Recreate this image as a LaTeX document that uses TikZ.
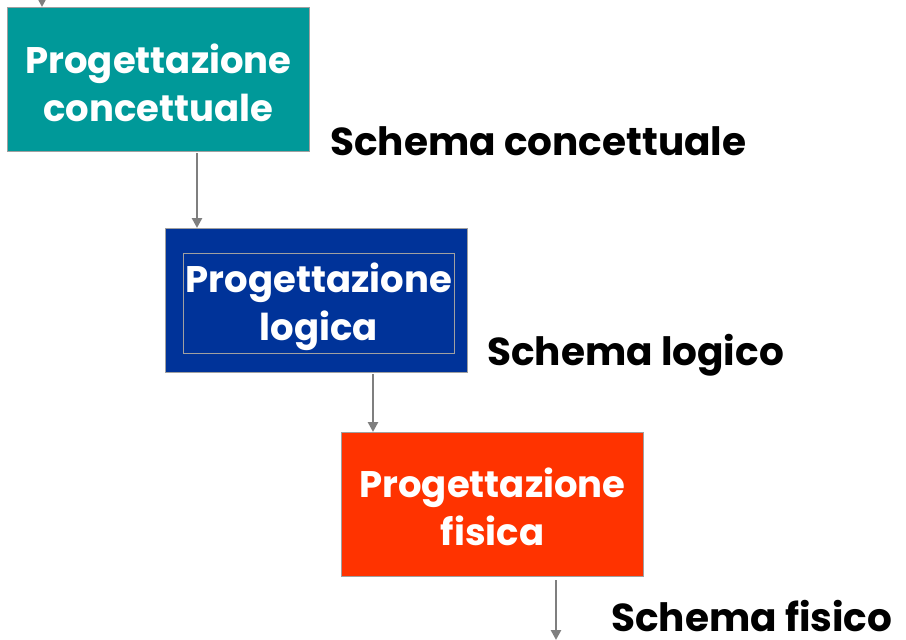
\documentclass[tikz,border=0pt]{standalone}
\usepackage{fontspec}
\setmainfont{Poppins}
\usetikzlibrary{arrows.meta}
\definecolor{teal1}{HTML}{009999}
\definecolor{navy1}{HTML}{003399}
\definecolor{red1}{HTML}{FF3300}
\definecolor{edge1}{HTML}{A0A0A0}
\definecolor{arr1}{HTML}{7F7F7F}
\tikzset{
  phase/.style={draw=edge1, line width=1pt, minimum width=302pt, minimum height=144pt, inner sep=0pt, anchor=north west},
  phtext/.style={text=white, font=\fontsize{37}{48}\selectfont\bfseries, align=center},
  lbl/.style={text=black, font=\fontsize{39}{44}\selectfont\bfseries, anchor=west, inner sep=0pt},
  flow/.style={draw=arr1, line width=2.8pt, -{Triangle[length=10pt,width=10pt]}},
}
\begin{document}
\begin{tikzpicture}[x=1pt,y=-1pt]
\useasboundingbox (0,0) rectangle (906,640);
\node[phase, fill=teal1] (b1) at (7,7) {};
\node[phase, fill=navy1] (b2) at (165,228) {};
\node[phase, fill=red1] (b3) at (341,432) {};
\node[draw=edge1, line width=0.8pt, minimum width=271pt, minimum height=100pt, inner sep=0pt, anchor=north west] (i2) at (183,253) {};
\node[phtext] (t1) at ([yshift=-3pt]b1.center) {Progettazione\\concettuale};
\node[phtext] (t2) at ([yshift=-3pt]i2.center) {Progettazione\\logica};
\node[phtext] (t3) at ([yshift=-2pt]b3.center) {Progettazione\\fisica};
\node[lbl] (s1) at (330,141) {Schema concettuale};
\node[lbl] (s2) at (487,355) {Schema logico};
\node[lbl] (s3) at (611,616) {Schema fisico};
\coordinate (top) at (42,0);
\coordinate (bot) at (556,640);
\draw[flow] (top) -- (b1.north -| top);
\draw[flow] (197,153) coordinate (a1) -- (b2.north -| a1);
\draw[flow] (373,374) coordinate (a2) -- (b3.north -| a2);
\draw[flow] (556,580) coordinate (a3) -- (bot);
\end{tikzpicture}
\end{document}
